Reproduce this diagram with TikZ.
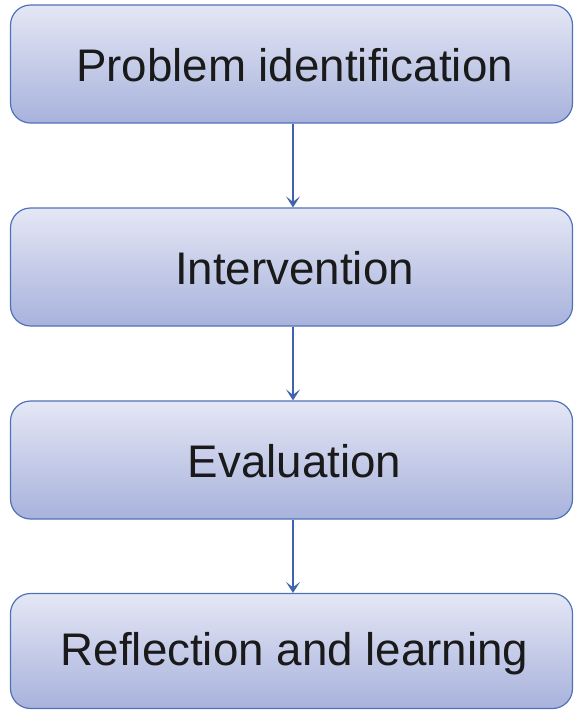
\documentclass[tikz,border=0pt]{standalone}
\usepackage{fontspec}
\setmainfont{Liberation Sans}
\usetikzlibrary{arrows.meta}
\definecolor{boxtop}{HTML}{E4E7F5}
\definecolor{boxbot}{HTML}{A8B2DC}
\definecolor{boxline}{HTML}{4F72B8}
\definecolor{arrowblue}{HTML}{3F63AC}
\definecolor{textdark}{HTML}{1A1A1A}
\tikzset{
  stagebox/.style={draw=boxline, line width=1.2pt, rounded corners=20pt,
    top color=boxtop, bottom color=boxbot, minimum width=562pt,
    inner sep=0pt},
  stagelabel/.style={text=textdark, font=\fontsize{45.7}{55}\selectfont, inner sep=0pt},
  flowarrow/.style={draw=arrowblue, line width=2.2pt,
    -{Stealth[length=11pt, width=14pt, inset=5.5pt]}}
}
\begin{document}
\begin{tikzpicture}[x=1pt, y=1pt]
  \useasboundingbox (0,0) rectangle (574,-710);
  \node[stagebox, minimum height=118pt] (p) at (291.5,-64) {};
  \node[stagebox, minimum height=118pt] (i) at (291.5,-267) {};
  \node[stagebox, minimum height=118pt] (e) at (291.5,-460) {};
  \node[stagebox, minimum height=115pt] (r) at (291.5,-651) {};
  \node[stagelabel] (pl) at ([xshift=3pt, yshift=-1.5pt]p.center) {Problem identification};
  \node[stagelabel] (il) at ([xshift=3pt, yshift=-1.5pt]i.center) {Intervention};
  \node[stagelabel] (el) at ([xshift=3pt, yshift=-1.5pt]e.center) {Evaluation};
  \node[stagelabel] (rl) at ([xshift=3pt, yshift=-2.5pt]r.center) {Reflection and learning};
  \draw[flowarrow] ([xshift=1.5pt]p.south) -- ([xshift=1.5pt]i.north);
  \draw[flowarrow] ([xshift=1.5pt]i.south) -- ([xshift=1.5pt]e.north);
  \draw[flowarrow] ([xshift=1.5pt]e.south) -- ([xshift=1.5pt]r.north);
\end{tikzpicture}
\end{document}
